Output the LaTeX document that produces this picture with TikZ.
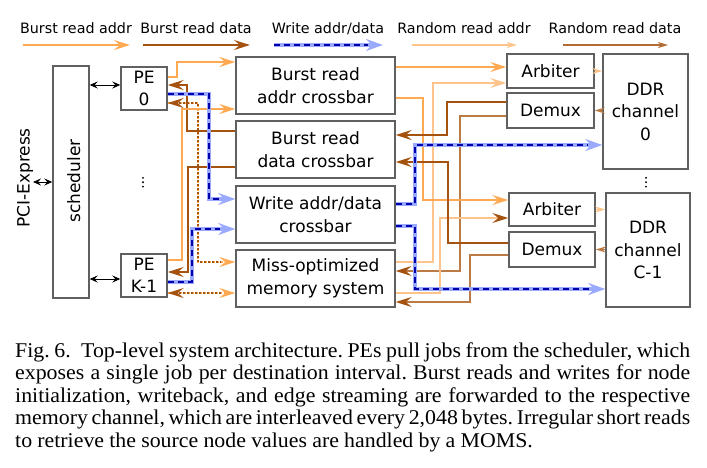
\documentclass[tikz,border=0pt]{standalone}
\usepackage{fontspec}
\setmainfont{DejaVu Sans}
\newfontfamily\capfont[FakeStretch=1.04]{Liberation Serif}
\usetikzlibrary{arrows.meta,calc}
\definecolor{cOr}{HTML}{FFA952}
\definecolor{cBr}{HTML}{A4520E}
\definecolor{cLO}{HTML}{FFC48C}
\definecolor{cTan}{HTML}{BC7A45}
\definecolor{cLB}{HTML}{9AAAFF}
\definecolor{cDB}{HTML}{0000AA}
\definecolor{cBox}{HTML}{606060}
\newcommand\capline[1]{\hbox to 675pt{#1}}
\newcommand\capspacing{\frenchspacing\spaceskip=0.25em plus 0.4em minus 0.14em\relax}
\tikzset{
  BT/.tip={Stealth[length=16pt,width=10pt,inset=6pt]},
  STT/.tip={Stealth[length=10pt,width=6pt,inset=3pt]},
  KT/.tip={Stealth[length=8pt,width=7pt,inset=3pt]},
  box/.style={draw=cBox, line width=1.4pt, inner sep=0pt, align=center, font=\fontsize{17}{22.5}\selectfont},
  lbl/.style={inner sep=0pt, font=\fontsize{17}{22.5}\selectfont},
  leg/.style={inner sep=0pt, anchor=base, font=\fontsize{14.3}{17}\selectfont},
  bra/.style={draw=cOr, line width=2.2pt, -{BT}},
  brd/.style={draw=cBr, line width=2.2pt, -{BT}},
  rra/.style={draw=cLO, line width=1.3pt, -{BT}},
  rrd/.style={draw=cTan, line width=1.3pt, -{BT[color=cBr]}},
  wr/.style={draw=cLB, line width=4pt, -{Stealth[length=17pt,width=12pt,inset=6pt]},
    postaction={draw=cDB, line width=1.8pt, dash pattern=on 6pt off 4pt, shorten >=15pt, -}},
  rnd/.style={draw=cOr, line width=1.6pt, dash pattern=on 2pt off 2pt, -{BT},
    postaction={draw=cBr, line width=1.6pt, dash pattern=on 2pt off 2pt, dash phase=2pt, {BT}-, shorten >=14pt}},
  smo/.style={draw=cLO, line width=1.3pt, -{STT}},
  smt/.style={draw=cTan, line width=1.3pt, -{STT}},
  blk/.style={draw=black, line width=0.9pt, {KT}-{KT}},
  dotfill/.style={fill=black},
}
\begin{document}
\begin{tikzpicture}[x=1pt,y=-1pt]
\useasboundingbox[fill=white] (0,0) rectangle (707,467);

% legend
\node[leg] (t1) at (76,33.5) {Burst read addr};
\node[leg] (t2) at (196,33.5) {Burst read data};
\node[leg] (t3) at (328,33.5) {Write addr/data};
\node[leg] (t4) at (464,33.5) {Random read addr};
\node[leg] (t5) at (615,33.5) {Random read data};
\coordinate (l1a) at (23,45); \coordinate (l1b) at (130,45);
\coordinate (l2a) at (143,45); \coordinate (l2b) at (250,45);
\coordinate (l3a) at (274,45); \coordinate (l3b) at (383,45);
\coordinate (l4a) at (412,45); \coordinate (l4b) at (517,45);
\coordinate (l5a) at (563,45); \coordinate (l5b) at (668,45);
\draw[bra] (l1a) -- (l1b);
\draw[brd] (l2a) -- (l2b);
\draw[wr] (l3a) -- (l3b);
\draw[smo] (l4a) -- (l4b);
\draw[smt, draw=cBr!85!white] (l5a) -- (l5b);

% boxes
\node[box, minimum width=36pt, minimum height=232pt] (sched) at (71,182) {};
\node[lbl, rotate=90, anchor=base] (schedl) at (80,181) {scheduler};
\node[lbl, rotate=90, anchor=base] (pcie) at (29.5,178) {PCI-Express};
\node[box, minimum width=46pt, minimum height=43pt] (pe0) at (144,88.5) {PE\\0};
\node[box, minimum width=46pt, minimum height=43pt] (pek) at (144,275.5) {PE\\K-1};
\node[box, minimum width=159pt, minimum height=57pt] (brac) at (315.5,85.5) {Burst read\\addr crossbar};
\node[box, minimum width=159pt, minimum height=57pt] (brdc) at (315.5,149.5) {Burst read\\data crossbar};
\node[box, minimum width=159pt, minimum height=57pt] (wc) at (315.5,214.5) {Write addr/data\\crossbar};
\node[box, minimum width=159pt, minimum height=57pt] (moms) at (315.5,278.5) {Miss-optimized\\memory system};
\node[box, minimum width=87pt, minimum height=34pt] (arb0) at (550.5,71) {Arbiter};
\node[box, minimum width=87pt, minimum height=35pt] (dmx0) at (550.5,110.5) {Demux};
\node[box, minimum width=85pt, minimum height=115pt] (ddr0) at (645.5,111.5) {DDR\\channel\\0};
\node[box, minimum width=86pt, minimum height=33pt] (arb1) at (552,209.5) {Arbiter};
\node[box, minimum width=86pt, minimum height=35pt] (dmx1) at (552,249.5) {Demux};
\node[box, minimum width=84pt, minimum height=114pt] (ddr1) at (648,250) {DDR\\channel\\C-1};

% vertical ellipses
\foreach \yy in {177.8,182.2,186.6} {
  \fill[dotfill] (143,\yy) circle (1.05pt);
  \fill[dotfill] (646,\yy) circle (1.05pt);
}

% scheduler links
\coordinate (pciend) at (33,182);
\draw[blk] (pciend) -- (sched.west |- pciend);
\draw[blk] (sched.east |- 0,85) -- (pe0.west |- 0,85);
\draw[blk] (sched.east |- 0,279) -- (pek.west |- 0,279);

% left side wires
\draw[rnd] (pe0.east |- 0,103) -- (198,103) -- (198,262) -- (moms.west |- 0,262);
\draw[rnd] (pek.east |- 0,293) -- (moms.west |- 0,293);
\draw[brd] (brdc.west |- 0,131) -- (187,131) -- (187,85) -- (pe0.east |- 0,85);
\draw[brd] (brdc.west |- 0,167) -- (188,167) -- (188,272) -- (pek.east |- 0,272);
\draw[bra] (pe0.east |- 0,77) -- (177,77) -- (177,62) -- (brac.west |- 0,62);
\draw[bra] (pek.east |- 0,260) -- (182,260) -- (182,109) -- (brac.west |- 0,109);
\draw[wr] (pe0.east |- 0,94) -- (209,94) -- (209,199) -- (wc.west |- 0,199);
\draw[wr] (pek.east |- 0,282) -- (192,282) -- (192,229) -- (wc.west |- 0,229);

% right side wires
\draw[rrd] (dmx0.west |- 0,116) -- (460,116) -- (460,271) -- (moms.east |- 0,271);
\draw[rrd] (dmx1.west |- 0,255) -- (470,255) -- (470,302) -- (moms.east |- 0,302);
\draw[rra] (moms.east |- 0,262) -- (433,262) -- (433,83) -- (arb0.west |- 0,83);
\draw[rra, -{BT[color=cBr]}] (moms.east |- 0,293) -- (440,293) -- (440,218) -- (arb1.west |- 0,218);
\draw[bra] (brac.east |- 0,67) -- (arb0.west |- 0,67);
\draw[bra] (brac.east |- 0,98) -- (423,98) -- (423,200) -- (arb1.west |- 0,200);
\draw[brd] (dmx0.west |- 0,102) -- (447,102) -- (447,135) -- (brdc.east |- 0,135);
\draw[brd] (dmx1.west |- 0,243) -- (448,243) -- (448,162) -- (brdc.east |- 0,162);
\draw[wr] (wc.east |- 0,204) -- (415,204) -- (415,145) -- (ddr0.west |- 0,145);
\draw[wr] (wc.east |- 0,226) -- (415,226) -- (415,289) -- (ddr1.west |- 0,289);

% arbiter/demux to DDR
\draw[smo] (arb0.east) -- (arb0.east -| ddr0.west);
\draw[smt] (ddr0.west |- dmx0.east) -- (dmx0.east);
\draw[smo] (arb1.east) -- (arb1.east -| ddr1.west);
\draw[smt] (ddr1.west |- dmx1.east) -- (dmx1.east);

% caption
\node[anchor=north west, inner sep=0pt, text width=675pt,
  font=\capfont\fontsize{21}{22.5}\selectfont] (cap) at (15,342.5)
{\capspacing
\capline{Fig.~6.\enspace Top-level system architecture. PEs pull jobs from the scheduler, which}
\capline{exposes a single job per destination interval. Burst reads and writes for node}
\capline{initialization, writeback, and edge streaming are forwarded to the respective}
\capline{memory channel, which are interleaved every 2,048 bytes. Irregular short reads}
\hbox{to retrieve the source node values are handled by a MOMS.}};
\end{tikzpicture}
\end{document}
